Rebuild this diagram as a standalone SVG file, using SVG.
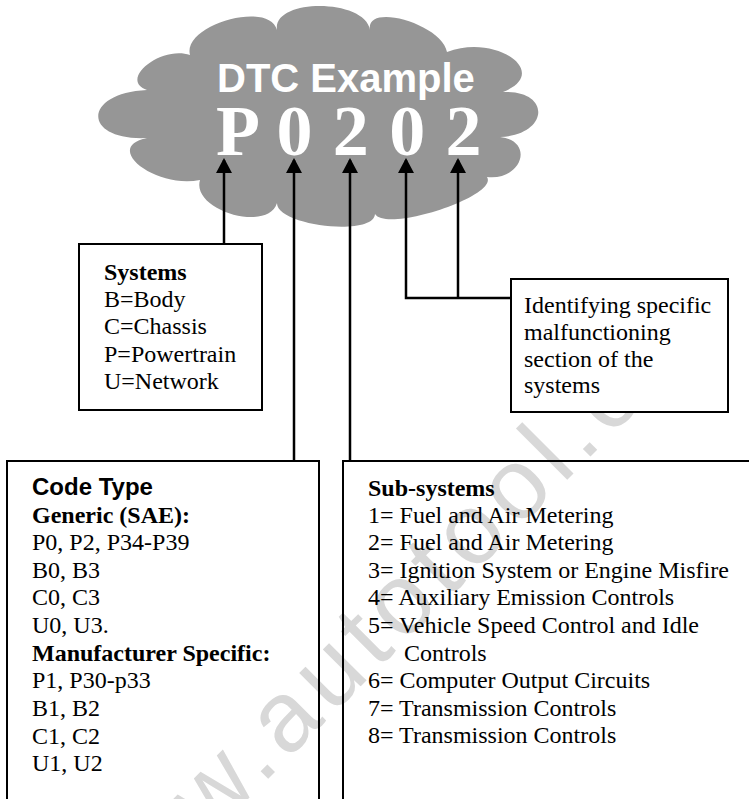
<svg xmlns="http://www.w3.org/2000/svg" width="749" height="799" viewBox="0 0 749 799">
<defs>
<style>
.box{fill:none;stroke:#000;stroke-width:2}
.wbox{fill:#fff;stroke:#000;stroke-width:2}
.con{fill:none;stroke:#000;stroke-width:2.5}
.t{font-family:"Liberation Serif","Times New Roman",serif;font-size:24px;fill:#000}
.b{font-weight:bold}
.h{font-family:"Liberation Sans",Arial,sans-serif;font-size:24px;font-weight:bold;fill:#000}
</style>
<marker id="ah" viewBox="0 0 15 16" refX="13" refY="8" markerWidth="15" markerHeight="16" markerUnits="userSpaceOnUse" orient="auto">
<path d="M0,0 L15,8 L0,16 z" fill="#000"/>
</marker>
</defs>
<rect width="749" height="799" fill="#fff"/>
<g id="cloud">
<path fill="#969696" d="M190 55 C182 25,269 0,277 30 C272 -2,365 -2,370 30 C365 2,442 24,447 52 C496 33,552 73,503 92 C552 90,549 135,500 137 C535 141,522 181,487 177 C499 196,387 233,375 214 C374 237,276 226,277 203 C268 233,191 210,200 180 C155 189,102 147,147 138 C82 141,82 93,147 90 C118 80,161 45,190 55 Z"/>
<text x="217" y="92" font-family="Liberation Sans, Arial, sans-serif" font-size="40" font-weight="bold" fill="#fff">DTC Example</text>
<text x="216" y="155" font-family="Liberation Serif, Times New Roman, serif" font-size="72" font-weight="bold" letter-spacing="1.2" fill="#fff">P 0 2 0 2</text>
</g>
<g id="watermark">
<text x="95.5" y="951.5" transform="rotate(-45 95.5 951.5)" font-family="Liberation Sans, Arial, sans-serif" font-size="100" letter-spacing="8" fill="#d8d8d8">www.autotool.c</text>
</g>
<g id="connectors">
<path class="con" d="M224 244 V160" marker-end="url(#ah)"/>
<path class="con" d="M294 461 V160" marker-end="url(#ah)"/>
<path class="con" d="M350 461 V160" marker-end="url(#ah)"/>
<path class="con" d="M511 298 H406 V160" marker-end="url(#ah)"/>
<path class="con" d="M458 298 V160" marker-end="url(#ah)"/>
</g>
<g id="systems">
<rect class="wbox" x="79" y="244" width="183" height="166"/>
<text class="t b" x="104" y="280">Systems</text>
<text class="t" x="104" y="307">B=Body</text>
<text class="t" x="104" y="334">C=Chassis</text>
<text class="t" x="104" y="362">P=Powertrain</text>
<text class="t" x="104" y="389">U=Network</text>
</g>
<g id="identifying">
<rect class="wbox" x="511" y="279" width="217" height="133"/>
<text class="t" x="524" y="313">Identifying specific</text>
<text class="t" x="524" y="340">malfunctioning</text>
<text class="t" x="524" y="367">section of the</text>
<text class="t" x="524" y="393">systems</text>
</g>
<g id="codetype">
<rect class="box" x="7" y="461" width="312" height="400"/>
<text class="h" x="32" y="495">Code Type</text>
<text class="t b" x="32" y="523">Generic (SAE):</text>
<text class="t" x="32" y="550">P0, P2, P34-P39</text>
<text class="t" x="32" y="578">B0, B3</text>
<text class="t" x="32" y="605">C0, C3</text>
<text class="t" x="32" y="633">U0, U3.</text>
<text class="t b" x="32" y="661">Manufacturer Specific:</text>
<text class="t" x="32" y="688">P1, P30-p33</text>
<text class="t" x="32" y="716">B1, B2</text>
<text class="t" x="32" y="744">C1, C2</text>
<text class="t" x="32" y="771">U1, U2</text>
</g>
<g id="subsystems">
<rect class="box" x="343" y="461" width="420" height="400"/>
<text class="t b" x="368" y="496">Sub-systems</text>
<text class="t" x="368" y="523">1= Fuel and Air Metering</text>
<text class="t" x="368" y="550">2= Fuel and Air Metering</text>
<text class="t" x="368" y="578">3= Ignition System or Engine Misfire</text>
<text class="t" x="368" y="605">4= Auxiliary Emission Controls</text>
<text class="t" x="368" y="633">5= Vehicle Speed Control and Idle</text>
<text class="t" x="404" y="661">Controls</text>
<text class="t" x="368" y="688">6= Computer Output Circuits</text>
<text class="t" x="368" y="716">7= Transmission Controls</text>
<text class="t" x="368" y="743">8= Transmission Controls</text>
</g>
</svg>
